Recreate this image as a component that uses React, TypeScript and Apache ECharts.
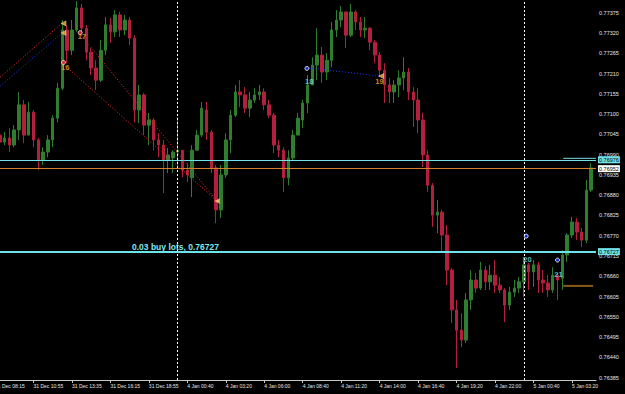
import React, { useEffect, useRef } from 'react';
import * as echarts from 'echarts';

// ---- time axis (20-minute bars) ----
const sessions = [
  { day: '31 Dec', startMin: 8 * 60 + 15, bars: 38 },
  { day: '4 Jan', startMin: 0, bars: 72 },
  { day: '5 Jan', startMin: 0, bars: 16 },
];
const xTickLabels = [
  '31 Dec 08:15', '31 Dec 10:55', '31 Dec 13:35', '31 Dec 16:15', '31 Dec 18:55',
  '4 Jan 00:40', '4 Jan 03:20', '4 Jan 06:00', '4 Jan 08:40', '4 Jan 11:20',
  '4 Jan 14:00', '4 Jan 16:40', '4 Jan 19:20', '4 Jan 22:00', '5 Jan 00:40', '5 Jan 03:20',
];
const dayStarts = ['4 Jan 00:00', '5 Jan 00:00'];

// ---- price axis ----
const yTicks = [
  0.76385, 0.7644, 0.76495, 0.7655, 0.76605, 0.7666, 0.76715, 0.7677, 0.76825, 0.7688,
  0.76935, 0.7699, 0.77045, 0.771, 0.77155, 0.7721, 0.77265, 0.7732, 0.77375,
];
const priceMin = 0.763788;
const priceMax = 0.774094;

// ---- candles: [open, close, low, high] ----
const candles: number[][] = [
  [0.77043, 0.77024, 0.7701, 0.77057],
  [0.77024, 0.77035, 0.77016, 0.77051],
  [0.77035, 0.77016, 0.76997, 0.77062],
  [0.77016, 0.77057, 0.7701, 0.7707],
  [0.77057, 0.77125, 0.7703, 0.7716],
  [0.77125, 0.77043, 0.77021, 0.77138],
  [0.77043, 0.77105, 0.77043, 0.77133],
  [0.77105, 0.7703, 0.7701, 0.77111],
  [0.7703, 0.76975, 0.76948, 0.77035],
  [0.76975, 0.76997, 0.76962, 0.7701],
  [0.76997, 0.7703, 0.76983, 0.77043],
  [0.7703, 0.77089, 0.7701, 0.77097],
  [0.77089, 0.7717, 0.77078, 0.77184],
  [0.7717, 0.77328, 0.77165, 0.77355],
  [0.77328, 0.77273, 0.77238, 0.77342],
  [0.77273, 0.77328, 0.7726, 0.77355],
  [0.77328, 0.77388, 0.77323, 0.77406],
  [0.77388, 0.77333, 0.77323, 0.77399],
  [0.77333, 0.77268, 0.77246, 0.77342],
  [0.77268, 0.77225, 0.77206, 0.77279],
  [0.77225, 0.77192, 0.77165, 0.77246],
  [0.77192, 0.77273, 0.77187, 0.77301],
  [0.77273, 0.77342, 0.7726, 0.77363],
  [0.77342, 0.77323, 0.77293, 0.77361],
  [0.77323, 0.77369, 0.77309, 0.77382],
  [0.77369, 0.77328, 0.77309, 0.77377],
  [0.77328, 0.77355, 0.77314, 0.77369],
  [0.77355, 0.77306, 0.77287, 0.77363],
  [0.77306, 0.77111, 0.77078, 0.77314],
  [0.77111, 0.77152, 0.77076, 0.77179],
  [0.77152, 0.7707, 0.77043, 0.77157],
  [0.7707, 0.77084, 0.77016, 0.77103],
  [0.77084, 0.7703, 0.77002, 0.77089],
  [0.7703, 0.77016, 0.76983, 0.77048],
  [0.77016, 0.76975, 0.76886, 0.7703],
  [0.76975, 0.76989, 0.7694, 0.77008],
  [0.76981, 0.76997, 0.7694, 0.77002],
  [0.76997, 0.77002, 0.76956, 0.77092],
  [0.77002, 0.76948, 0.76929, 0.77002],
  [0.76948, 0.76935, 0.76916, 0.76967],
  [0.76927, 0.77002, 0.76875, 0.77016],
  [0.77002, 0.77043, 0.77002, 0.77057],
  [0.77043, 0.77116, 0.77038, 0.77133],
  [0.77111, 0.77051, 0.7703, 0.77133],
  [0.77051, 0.76954, 0.7694, 0.77057],
  [0.76954, 0.7684, 0.76804, 0.76962],
  [0.7684, 0.76935, 0.76818, 0.76962],
  [0.76935, 0.7703, 0.76927, 0.77048],
  [0.7703, 0.77097, 0.76994, 0.77111],
  [0.77097, 0.7716, 0.77092, 0.77179],
  [0.7716, 0.77152, 0.77119, 0.77192],
  [0.77152, 0.77116, 0.77103, 0.77173],
  [0.77116, 0.77138, 0.77092, 0.7716],
  [0.77138, 0.77152, 0.7713, 0.7717],
  [0.77152, 0.7716, 0.77138, 0.77179],
  [0.7716, 0.77125, 0.77111, 0.7717],
  [0.77125, 0.77097, 0.77089, 0.77138],
  [0.77097, 0.77016, 0.76994, 0.77103],
  [0.77016, 0.77002, 0.76983, 0.7703],
  [0.77002, 0.76927, 0.76889, 0.7701],
  [0.76927, 0.76981, 0.76907, 0.77002],
  [0.76981, 0.77043, 0.76975, 0.77057],
  [0.77043, 0.77089, 0.77043, 0.77103],
  [0.77084, 0.7713, 0.77062, 0.77138],
  [0.7713, 0.77179, 0.77103, 0.77206],
  [0.77179, 0.77233, 0.77179, 0.77254],
  [0.77233, 0.7726, 0.77192, 0.77333],
  [0.7726, 0.77214, 0.77184, 0.77282],
  [0.77214, 0.77246, 0.77192, 0.77265],
  [0.77246, 0.77328, 0.77227, 0.7735],
  [0.77328, 0.77355, 0.77309, 0.77382],
  [0.77355, 0.77377, 0.77336, 0.77393],
  [0.77377, 0.77314, 0.77279, 0.77377],
  [0.77314, 0.77377, 0.77309, 0.77399],
  [0.77377, 0.7735, 0.77328, 0.77382],
  [0.7735, 0.77328, 0.77309, 0.77363],
  [0.77328, 0.77333, 0.77306, 0.77363],
  [0.77333, 0.77295, 0.77273, 0.77336],
  [0.77295, 0.7726, 0.77238, 0.77301],
  [0.7726, 0.77219, 0.772, 0.77268],
  [0.77219, 0.77179, 0.7713, 0.77238],
  [0.77179, 0.7716, 0.7713, 0.77198],
  [0.7716, 0.77179, 0.7713, 0.77192],
  [0.77179, 0.77198, 0.77146, 0.77219],
  [0.77198, 0.77214, 0.77165, 0.77254],
  [0.77214, 0.7716, 0.77138, 0.77225],
  [0.7716, 0.77138, 0.77065, 0.77173],
  [0.77138, 0.77084, 0.77048, 0.7717],
  [0.77084, 0.76989, 0.76956, 0.77103],
  [0.76989, 0.76907, 0.76889, 0.77002],
  [0.76907, 0.76826, 0.76794, 0.76913],
  [0.76826, 0.76834, 0.76777, 0.76867],
  [0.76834, 0.76772, 0.76723, 0.7684],
  [0.76772, 0.76677, 0.76636, 0.76799],
  [0.76677, 0.76569, 0.76533, 0.76682],
  [0.76569, 0.76514, 0.76411, 0.76596],
  [0.76514, 0.76487, 0.76468, 0.7656],
  [0.76487, 0.76596, 0.76479, 0.76615],
  [0.76596, 0.7665, 0.76569, 0.76677],
  [0.7665, 0.76628, 0.76615, 0.76669],
  [0.76628, 0.76677, 0.76623, 0.76699],
  [0.76677, 0.76645, 0.76623, 0.76688],
  [0.76645, 0.76663, 0.76623, 0.76691],
  [0.76663, 0.76636, 0.76615, 0.76704],
  [0.76636, 0.76623, 0.76615, 0.76658],
  [0.76623, 0.76582, 0.76536, 0.76628],
  [0.76582, 0.76617, 0.76569, 0.76631],
  [0.76617, 0.76628, 0.76604, 0.7665],
  [0.76628, 0.76645, 0.76615, 0.76658],
  [0.76645, 0.76691, 0.76604, 0.76712],
  [0.76691, 0.76672, 0.76623, 0.76696],
  [0.76672, 0.76691, 0.76631, 0.76704],
  [0.76691, 0.7665, 0.76615, 0.76699],
  [0.7665, 0.76642, 0.76615, 0.76677],
  [0.76642, 0.76623, 0.76604, 0.76663],
  [0.76623, 0.76663, 0.76615, 0.76685],
  [0.76663, 0.7665, 0.76596, 0.76669],
  [0.76655, 0.76718, 0.76623, 0.76731],
  [0.76718, 0.76772, 0.76699, 0.76777],
  [0.76772, 0.76807, 0.76764, 0.76821],
  [0.76807, 0.7678, 0.76758, 0.76818],
  [0.7678, 0.76758, 0.76739, 0.76791],
  [0.76758, 0.76894, 0.7675, 0.76921],
  [0.76894, 0.76954, 0.76889, 0.76967],
];

// ---- price levels ----
const askLevel = 0.76976;
const bidLevel = 0.76952;
const buyLevel = 0.76727;
const buyText = '0.03 buy lots, 0.76727';
const shortCyanSegment = [[118.2, 0.7698], [125, 0.7698]];
const shortBrownSegment = [[118.2, 0.76634], [124.4, 0.76634]];

// ---- drawn objects: [bar position, price] ----
const redTrendLines = [
  [[1.08, 0.772], [14.18, 0.77349]],
  [[14.18, 0.77236], [46.21, 0.76864]],
  [[17.92, 0.77314], [46.21, 0.76864]],
];
const blueTrendLines = [
  [[1.08, 0.77176], [13.97, 0.7732]],
  [[65.35, 0.77225], [80.1, 0.77203]],
];
const leftArrows = [[14.24, 0.77346], [14.24, 0.7732]];
const lastArrow = [[46.21, 0.76864]];
const redDots = [[14.24, 0.7724], [17.72, 0.77321]];
const blueDots = [[64.87, 0.77224], [110.48, 0.76769], [116.99, 0.76704]];
const orangeMarks = [[80.32, 0.77203]];
const orangeNumbers = [
  { text: '16', at: [14.6, 0.77227] },
  { text: '17', at: [18.07, 0.7731] },
  { text: '19', at: [79.97, 0.77189] },
];
const cyanNumbers = [
  { text: '18', at: [65.35, 0.77189] },
  { text: '20', at: [110.75, 0.76706] },
  { text: '21', at: [117.2, 0.76665] },
];

const pad = (n: number) => (n < 10 ? '0' + n : '' + n);
const categories: string[] = [];
sessions.forEach((s) => {
  for (let k = 0; k < s.bars; k++) {
    const m = s.startMin + k * 20;
    categories.push(`${s.day} ${pad(Math.floor(m / 60))}:${pad(m % 60)}`);
  }
});

const CYAN = '#6fe3ea';
const ORANGE = '#d5832a';
const UP = '#2f7d2f';
const DOWN = '#b3203d';
const AXIS = '#c8c8c8';
const FONT = 'Liberation Sans';

export default function App() {
  const ref = useRef<HTMLDivElement>(null);
  useEffect(() => {
    if (!ref.current) return;
    const chart = echarts.init(ref.current, null, { renderer: 'svg' });
    const empty = ['-', '-', '-', '-'];
    const tickFn = (_i: number, v: string) => xTickLabels.includes(v);
    const levelLabel = (bg: string) => ({
      show: true,
      position: 'end' as const,
      distance: 2,
      formatter: (p: any) => Number(p.value).toFixed(5),
      backgroundColor: bg,
      color: '#000',
      fontSize: 5.5,
      fontFamily: FONT,
      padding: [1, 1, 0, 1],
    });
    const numberSeries = (items: any[], color: string) => ({
      type: 'scatter',
      xAxisIndex: 1,
      yAxisIndex: 0,
      symbolSize: 0.1,
      silent: true,
      z: 8,
      data: items.map((d) => ({ value: d.at, name: d.text })),
      label: {
        show: true,
        position: 'inside',
        formatter: (p: any) => p.name,
        color,
        fontSize: 7.5,
        fontWeight: 'bold',
        fontFamily: FONT,
      },
    });
    const dayIdx = dayStarts.map((d) => categories.indexOf(d));
    const option: any = {
      animation: false,
      backgroundColor: '#000000',
      grid: { left: -5, right: 29, top: 0, bottom: 14, containLabel: false, outerBoundsMode: 'none' },
      xAxis: [
        {
          type: 'category',
          data: categories,
          boundaryGap: false,
          axisLine: { show: true, lineStyle: { color: AXIS, width: 1 } },
          axisTick: { show: true, interval: tickFn, length: 3, lineStyle: { color: AXIS } },
          axisLabel: {
            interval: tickFn,
            color: '#e6e6e6',
            fontSize: 5,
            fontFamily: FONT,
            align: 'left',
            margin: 3,
            formatter: (v: string) => v,
          },
          splitLine: { show: false },
        },
        { type: 'value', min: 0, max: categories.length - 1, show: false },
      ],
      yAxis: {
        type: 'value',
        position: 'right',
        min: priceMin,
        max: priceMax,
        scale: true,
        axisLine: { show: true, lineStyle: { color: AXIS, width: 1 } },
        axisTick: { show: true, customValues: yTicks, length: 2, lineStyle: { color: AXIS } },
        axisLabel: {
          customValues: yTicks,
          formatter: (v: number) => v.toFixed(5),
          color: '#e6e6e6',
          fontSize: 5.5,
          fontFamily: FONT,
          margin: 3,
        },
        splitLine: { show: false },
      },
      series: [
        {
          type: 'candlestick',
          xAxisIndex: 0,
          yAxisIndex: 0,
          data: [empty, ...candles, empty],
          barWidth: 3,
          itemStyle: { color: UP, color0: DOWN, borderColor: UP, borderColor0: DOWN, borderWidth: 1 },
        },
        {
          type: 'line', xAxisIndex: 1, yAxisIndex: 0, data: shortCyanSegment, symbol: 'none', silent: true,
          lineStyle: { color: CYAN, width: 1 }, z: 4,
          markLine: {
            symbol: ['none', 'none'],
            silent: true,
            animation: false,
            precision: 5,
            data: [
              ...dayIdx.map((d) => ({
                xAxis: d,
                lineStyle: { color: '#ffffff', width: 1, type: [2, 2] },
                label: { show: false },
              })),
              { yAxis: askLevel, lineStyle: { color: CYAN, width: 1, type: 'solid' }, label: levelLabel(CYAN) },
              { yAxis: bidLevel, lineStyle: { color: ORANGE, width: 1, type: 'solid' }, label: levelLabel('#ffffff') },
              { yAxis: buyLevel, lineStyle: { color: CYAN, width: 2, type: 'solid' }, label: levelLabel(CYAN) },
            ],
          },
        },
        {
          type: 'line', xAxisIndex: 1, yAxisIndex: 0, data: shortBrownSegment, symbol: 'none', silent: true,
          lineStyle: { color: '#8a5a1c', width: 2 },
        },
        ...redTrendLines.map((pts) => ({
          type: 'line', xAxisIndex: 1, yAxisIndex: 0, data: pts, symbol: 'none', silent: true, z: 5,
          lineStyle: { color: '#ff2a2a', width: 1, type: [1, 2] },
        })),
        ...blueTrendLines.map((pts) => ({
          type: 'line', xAxisIndex: 1, yAxisIndex: 0, data: pts, symbol: 'none', silent: true, z: 5,
          lineStyle: { color: '#2233ff', width: 1, type: [1, 2] },
        })),
        {
          type: 'scatter', xAxisIndex: 1, yAxisIndex: 0, data: leftArrows, silent: true, z: 7,
          symbol: 'triangle', symbolRotate: 90, symbolSize: 5,
          itemStyle: { color: '#ffb52a', borderColor: '#fff3c0', borderWidth: 0.5 },
        },
        {
          type: 'scatter', xAxisIndex: 1, yAxisIndex: 0, data: lastArrow, silent: true, z: 7,
          symbol: 'triangle', symbolRotate: 90, symbolSize: 5,
          itemStyle: { color: '#ffe0a0', borderColor: '#ff9a20', borderWidth: 0.5 },
        },
        {
          type: 'scatter', xAxisIndex: 1, yAxisIndex: 0, data: redDots, silent: true, z: 7,
          symbol: 'circle', symbolSize: 4,
          itemStyle: { color: '#ff2020', borderColor: '#ffffff', borderWidth: 1 },
        },
        {
          type: 'scatter', xAxisIndex: 1, yAxisIndex: 0, data: blueDots, silent: true, z: 7,
          symbol: 'circle', symbolSize: 4,
          itemStyle: { color: '#1f3cff', borderColor: '#ffffff', borderWidth: 1 },
        },
        {
          type: 'scatter', xAxisIndex: 1, yAxisIndex: 0, data: orangeMarks, silent: true, z: 7,
          symbol: 'triangle', symbolRotate: 90, symbolSize: 5,
          itemStyle: { color: '#ffb040', borderColor: '#ffffff', borderWidth: 0.5 },
        },
        numberSeries(orangeNumbers, '#ffa52a'),
        numberSeries(cyanNumbers, '#6fe3ea'),
      ],
      graphic: [
        {
          type: 'text',
          left: 132,
          top: 242,
          silent: true,
          style: {
            text: buyText,
            fill: '#7fe9f0',
            font: `bold 8.5px "${FONT}"`,
          },
        },
      ],
    };
    chart.setOption(option);
    return () => chart.dispose();
  }, []);
  return (
    <div
      ref={ref}
      style={{ position: 'fixed', left: 0, top: 0, width: 625, height: 394, background: '#000' }}
    />
  );
}
